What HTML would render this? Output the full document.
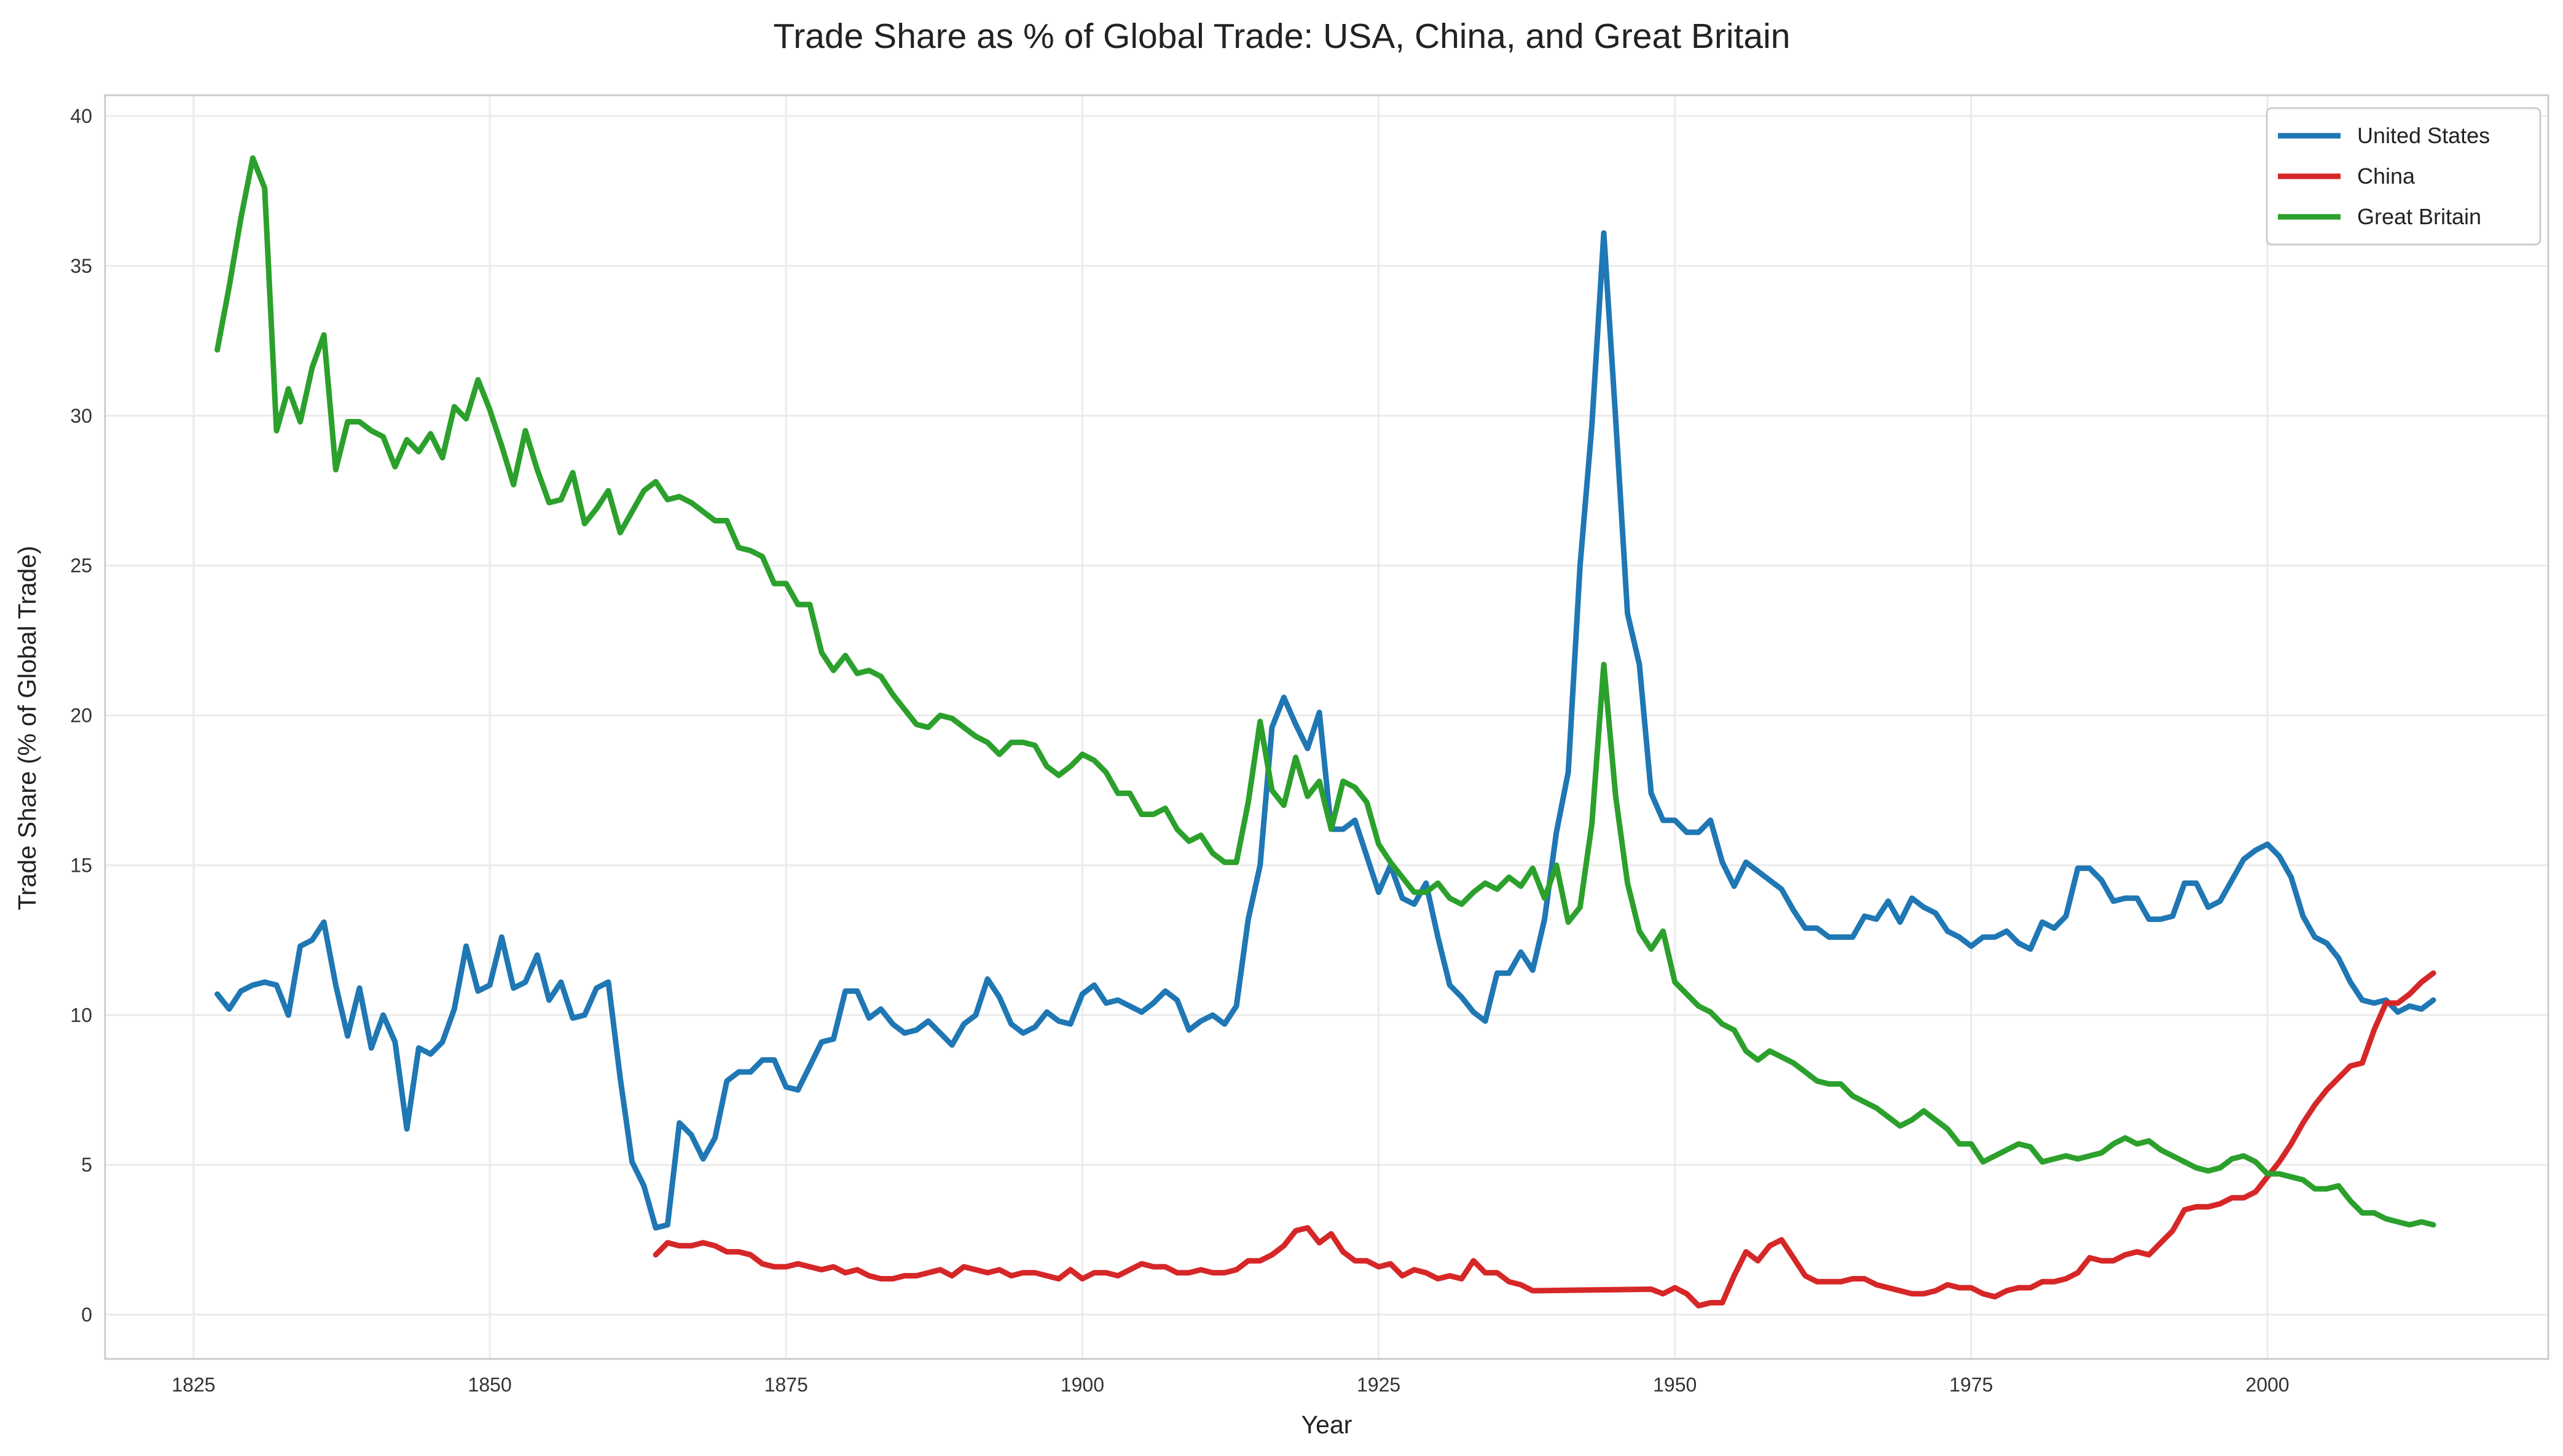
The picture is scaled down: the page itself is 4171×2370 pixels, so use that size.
<!DOCTYPE html>
<html><head><meta charset="utf-8">
<style>
html,body{margin:0;padding:0;background:#fff;}
svg{display:block;font-family:"Liberation Sans",sans-serif;}
</style></head>
<body>
<svg id="chart" width="4171" height="2370" viewBox="0 0 4171 2370" xmlns="http://www.w3.org/2000/svg">
<rect x="0" y="0" width="4171" height="2370" fill="#fff"/>
<text x="2086" y="78" text-anchor="middle" font-size="57" fill="#222">Trade Share as % of Global Trade: USA, China, and Great Britain</text>
<g id="grid"></g>
<g id="axes"></g>
<g id="series"></g>
<rect x="171" y="155" width="3976" height="2057" fill="none" stroke="#cccccc" stroke-width="3"/>
<text x="2159" y="2333" text-anchor="middle" font-size="41" fill="#222">Year</text>
<text transform="translate(58,1185) rotate(-90)" text-anchor="middle" font-size="41" fill="#222">Trade Share (% of Global Trade)</text>
<g id="legend">
<rect x="3689" y="176" width="445" height="222" rx="8" fill="#fff" fill-opacity="0.85" stroke="#cccccc" stroke-width="3"/>
<line x1="3707" y1="221" x2="3809" y2="221" stroke="#1f77b4" stroke-width="9"/>
<text x="3836" y="233" font-size="36" fill="#222">United States</text>
<line x1="3707" y1="287" x2="3809" y2="287" stroke="#d62728" stroke-width="9"/>
<text x="3836" y="299" font-size="36" fill="#222">China</text>
<line x1="3707" y1="353" x2="3809" y2="353" stroke="#2ca02c" stroke-width="9"/>
<text x="3836" y="365" font-size="36" fill="#222">Great Britain</text>
</g>
</svg>
<script>
const xTicks=[1825,1850,1875,1900,1925,1950,1975,2000];
const yTicks=[0,5,10,15,20,25,30,35,40];
const usStart=1827;
const usValues=[10.7,10.2,10.8,11.0,11.1,11.0,10.0,12.3,12.5,13.1,11.0,9.3,10.9,8.9,10.0,9.1,6.2,8.9,8.7,9.1,10.2,12.3,10.8,11.0,12.6,10.9,11.1,12.0,10.5,11.1,9.9,10.0,10.9,11.1,7.9,5.1,4.3,2.9,3.0,6.4,6.0,5.2,5.9,7.8,8.1,8.1,8.5,8.5,7.6,7.5,8.3,9.1,9.2,10.8,10.8,9.9,10.2,9.7,9.4,9.5,9.8,9.4,9.0,9.7,10.0,11.2,10.6,9.7,9.4,9.6,10.1,9.8,9.7,10.7,11.0,10.4,10.5,10.3,10.1,10.4,10.8,10.5,9.5,9.8,10.0,9.7,10.3,13.2,15.0,19.6,20.6,19.7,18.9,20.1,16.2,16.2,16.5,15.3,14.1,15.0,13.9,13.7,14.4,12.6,11.0,10.6,10.1,9.8,11.4,11.4,12.1,11.5,13.2,16.1,18.1,25.0,29.7,36.1,29.9,23.4,21.7,17.4,16.5,16.5,16.1,16.1,16.5,15.1,14.3,15.1,14.8,14.5,14.2,13.5,12.9,12.9,12.6,12.6,12.6,13.3,13.2,13.8,13.1,13.9,13.6,13.4,12.8,12.6,12.3,12.6,12.6,12.8,12.4,12.2,13.1,12.9,13.3,14.9,14.9,14.5,13.8,13.9,13.9,13.2,13.2,13.3,14.4,14.4,13.6,13.8,14.5,15.2,15.5,15.7,15.3,14.6,13.3,12.6,12.4,11.9,11.1,10.5,10.4,10.5,10.1,10.3,10.2,10.5];
const chinaYears1=[1864,1865,1866,1867,1868,1869,1870,1871,1872,1873,1874,1875,1876,1877,1878,1879,1880,1881,1882,1883,1884,1885,1886,1887,1888,1889,1890,1891,1892,1893,1894,1895,1896,1897,1898,1899,1900,1901,1902,1903,1904,1905,1906,1907,1908,1909,1910,1911,1912,1913,1914,1915,1916,1917,1918,1919,1920,1921,1922,1923,1924,1925,1926,1927,1928,1929,1930,1931,1932,1933,1934,1935,1936,1937,1938,1948,1949,1950,1951,1952,1953,1954,1955,1956,1957,1958,1959,1960,1961,1962,1963,1964,1965,1966,1967,1968,1969,1970,1971,1972,1973,1974,1975,1976,1977,1978,1979,1980,1981,1982,1983,1984,1985,1986,1987,1988,1989,1990,1991,1992,1993,1994,1995,1996,1997,1998,1999,2000,2001,2002,2003,2004,2005,2006,2007,2008,2009,2010,2011,2012,2013,2014];
const chinaValues=[2.0,2.4,2.3,2.3,2.4,2.3,2.1,2.1,2.0,1.7,1.6,1.6,1.7,1.6,1.5,1.6,1.4,1.5,1.3,1.2,1.2,1.3,1.3,1.4,1.5,1.3,1.6,1.5,1.4,1.5,1.3,1.4,1.4,1.3,1.2,1.5,1.2,1.4,1.4,1.3,1.5,1.7,1.6,1.6,1.4,1.4,1.5,1.4,1.4,1.5,1.8,1.8,2.0,2.3,2.8,2.9,2.4,2.7,2.1,1.8,1.8,1.6,1.7,1.3,1.5,1.4,1.2,1.3,1.2,1.8,1.4,1.4,1.1,1.0,0.8,0.85,0.7,0.9,0.7,0.3,0.4,0.4,1.3,2.1,1.8,2.3,2.5,1.9,1.3,1.1,1.1,1.1,1.2,1.2,1.0,0.9,0.8,0.7,0.7,0.8,1.0,0.9,0.9,0.7,0.6,0.8,0.9,0.9,1.1,1.1,1.2,1.4,1.9,1.8,1.8,2.0,2.1,2.0,2.4,2.8,3.5,3.6,3.6,3.7,3.9,3.9,4.1,4.6,5.1,5.7,6.4,7.0,7.5,7.9,8.3,8.4,9.5,10.4,10.4,10.7,11.1,11.4];
const gbStart=1827;
const gbValues=[32.2,34.3,36.6,38.6,37.6,29.5,30.9,29.8,31.6,32.7,28.2,29.8,29.8,29.5,29.3,28.3,29.2,28.8,29.4,28.6,30.3,29.9,31.2,30.2,29.0,27.7,29.5,28.2,27.1,27.2,28.1,26.4,26.9,27.5,26.1,26.8,27.5,27.8,27.2,27.3,27.1,26.8,26.5,26.5,25.6,25.5,25.3,24.4,24.4,23.7,23.7,22.1,21.5,22.0,21.4,21.5,21.3,20.7,20.2,19.7,19.6,20.0,19.9,19.6,19.3,19.1,18.7,19.1,19.1,19.0,18.3,18.0,18.3,18.7,18.5,18.1,17.4,17.4,16.7,16.7,16.9,16.2,15.8,16.0,15.4,15.1,15.1,17.1,19.8,17.5,17.0,18.6,17.3,17.8,16.2,17.8,17.6,17.1,15.7,15.1,14.6,14.1,14.1,14.4,13.9,13.7,14.1,14.4,14.2,14.6,14.3,14.9,13.9,15.0,13.1,13.6,16.4,21.7,17.3,14.4,12.8,12.2,12.8,11.1,10.7,10.3,10.1,9.7,9.5,8.8,8.5,8.8,8.6,8.4,8.1,7.8,7.7,7.7,7.3,7.1,6.9,6.6,6.3,6.5,6.8,6.5,6.2,5.7,5.7,5.1,5.3,5.5,5.7,5.6,5.1,5.2,5.3,5.2,5.3,5.4,5.7,5.9,5.7,5.8,5.5,5.3,5.1,4.9,4.8,4.9,5.2,5.3,5.1,4.7,4.7,4.6,4.5,4.2,4.2,4.3,3.8,3.4,3.4,3.2,3.1,3.0,3.1,3.0];

const NS='http://www.w3.org/2000/svg';
function xs(y){return 315+(y-1825)*(3690-315)/175;}
function ys(v){return 2140-v*(2140-189)/40;}
function mk(tag,attrs,parent){const e=document.createElementNS(NS,tag);for(const k in attrs)e.setAttribute(k,attrs[k]);parent.appendChild(e);return e;}
const grid=document.getElementById('grid'),axes=document.getElementById('axes'),series=document.getElementById('series');
xTicks.forEach(t=>{
  const l=mk('line',{x1:xs(t),x2:xs(t),y1:155,y2:2212,stroke:'#ebebeb','stroke-width':3},grid);
  
  
  const tx=mk('text',{x:xs(t),y:2265,'text-anchor':'middle','font-size':32,fill:'#333'},axes);
  tx.textContent=t;
  
  
});
yTicks.forEach(t=>{
  const l=mk('line',{x1:171,x2:4147,y1:ys(t),y2:ys(t),stroke:'#ebebeb','stroke-width':3},grid);
  
  
  const tx=mk('text',{x:150,y:ys(t)+11,'text-anchor':'end','font-size':32,fill:'#333'},axes);
  tx.textContent=t;
  
  
});
function line(years,vals,color,name){
  const d=vals.map((v,i)=>(i?'L':'M')+xs(years[i]).toFixed(1)+' '+ys(v).toFixed(1)).join(' ');
  const p=mk('path',{d:d,fill:'none',stroke:color,'stroke-width':9,'stroke-linejoin':'round','stroke-linecap':'round'},series);
  
  
}
const usYears=usValues.map((_,i)=>usStart+i);
const gbYears=gbValues.map((_,i)=>gbStart+i);
line(usYears,usValues,'#1f77b4','united-states-line');
line(chinaYears1,chinaValues,'#d62728','china-line');
line(gbYears,gbValues,'#2ca02c','great-britain-line');
</script>
</body></html>
